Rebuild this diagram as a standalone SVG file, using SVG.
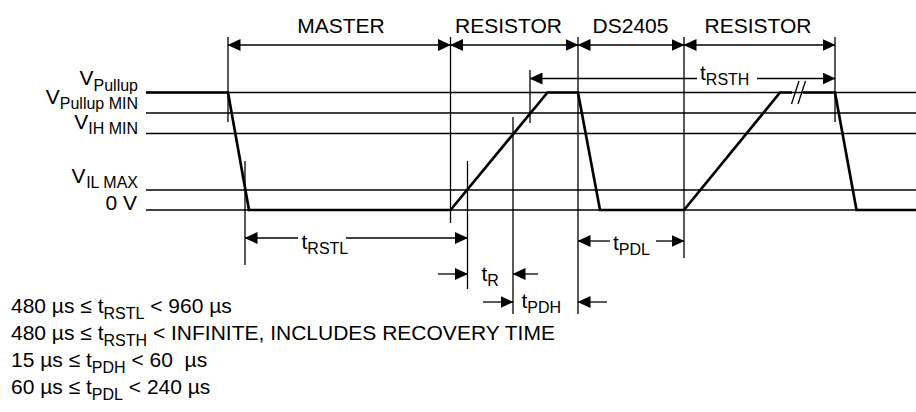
<svg xmlns="http://www.w3.org/2000/svg" width="916" height="412" viewBox="0 0 916 412">
<defs>
<style>
text{font-family:"Liberation Sans",Arial,sans-serif;font-size:21px;fill:#000}
.sub{font-size:16px}
.thin{stroke:#000;stroke-width:1.3;fill:none}
.sig{stroke:#000;stroke-width:2.7;fill:none;stroke-linejoin:miter}
.dim{stroke:#000;stroke-width:1.3;fill:none;marker-end:url(#ah)}
</style>
<marker id="ah" markerUnits="userSpaceOnUse" markerWidth="13" markerHeight="12" refX="12.5" refY="6" orient="auto" viewBox="0 0 13 12">
<path d="M0,0 L13,6 L0,12 z" fill="#000"/>
</marker>
</defs>
<rect width="916" height="412" fill="#fff"/>

<g id="level-labels" text-anchor="end">
<g id="lbl-vpullup"><text x="93.5" y="85">V</text><text class="sub" x="138" y="91">Pullup</text></g>
<g id="lbl-vpullupmin"><text x="59.8" y="103.5">V</text><text class="sub" x="138" y="108.8">Pullup MIN</text></g>
<g id="lbl-vihmin"><text x="88.2" y="129">V</text><text class="sub" x="138" y="134">IH MIN</text></g>
<g id="lbl-vilmax"><text x="85.5" y="183">V</text><text class="sub" x="138" y="188">IL MAX</text></g>
<g id="lbl-0v"><text x="137" y="209.5">0 V</text></g>
</g>

<g id="levels" class="thin">
<line x1="146" y1="92.5" x2="916" y2="92.5"/>
<line x1="146" y1="113" x2="916" y2="113"/>
<line x1="146" y1="133.5" x2="916" y2="133.5"/>
<line x1="146" y1="190" x2="916" y2="190"/>
<line x1="146" y1="210" x2="916" y2="210"/>
</g>

<g id="signal" class="sig">
<polyline points="146,92.5 228,92.5 249,210 450.5,210 547.5,92.5 578,92.5 600,210 684,210 780,92.5 792,92.5"/>
<polyline points="803,92.5 835,92.5 856.5,210 916,210"/>
</g>
<g id="break" class="thin">
<line x1="791.5" y1="104" x2="799" y2="81"/>
<line x1="798" y1="104" x2="805.5" y2="81"/>
</g>

<g id="extension-lines" class="thin">
<line x1="228" y1="37" x2="228" y2="122"/>
<line x1="245" y1="161" x2="245" y2="265"/>
<line x1="450.5" y1="37" x2="450.5" y2="223"/>
<line x1="467.5" y1="161" x2="467.5" y2="289"/>
<line x1="513" y1="117" x2="513" y2="314"/>
<line x1="530" y1="70" x2="530" y2="123"/>
<line x1="578" y1="37" x2="578" y2="314"/>
<line x1="684" y1="37" x2="684" y2="258"/>
<line x1="835" y1="37" x2="835" y2="122"/>
</g>

<g id="connectors">
<line class="dim" x1="340" y1="45" x2="228" y2="45"/>
<line class="dim" x1="340" y1="45" x2="450.5" y2="45"/>
<line class="dim" x1="514" y1="45" x2="450.5" y2="45"/>
<line class="dim" x1="514" y1="45" x2="578" y2="45"/>
<line class="dim" x1="631" y1="45" x2="578" y2="45"/>
<line class="dim" x1="631" y1="45" x2="684" y2="45"/>
<line class="dim" x1="760" y1="45" x2="684" y2="45"/>
<line class="dim" x1="760" y1="45" x2="835" y2="45"/>
<line class="dim" x1="697" y1="78.5" x2="530" y2="78.5"/>
<line class="dim" x1="757" y1="78.5" x2="835" y2="78.5"/>
<line class="dim" x1="298" y1="238" x2="245" y2="238"/>
<line class="dim" x1="346" y1="238" x2="467.5" y2="238"/>
<line class="dim" x1="610" y1="241" x2="578" y2="241"/>
<line class="dim" x1="656" y1="241" x2="684" y2="241"/>
<line class="dim" x1="438" y1="274" x2="467.5" y2="274"/>
<line class="dim" x1="538" y1="274" x2="513" y2="274"/>
<line class="dim" x1="483" y1="302" x2="513" y2="302"/>
<line class="dim" x1="607" y1="302" x2="578" y2="302"/>
</g>

<g id="phase-labels">
<text x="341" y="33" text-anchor="middle">MASTER</text>
<text x="508.5" y="33" text-anchor="middle">RESISTOR</text>
<text x="630.5" y="33" text-anchor="middle">DS2405</text>
<text x="758" y="33" text-anchor="middle">RESISTOR</text>
</g>

<g id="timing-labels">
<text x="700" y="80">t<tspan class="sub" dy="5">RSTH</tspan></text>
<text x="301.5" y="249">t<tspan class="sub" dy="4.5">RSTL</tspan></text>
<text x="613" y="250">t<tspan class="sub" dy="5">PDL</tspan></text>
<text x="481.5" y="281">t<tspan class="sub" dy="4.5">R</tspan></text>
<text x="521.5" y="308">t<tspan class="sub" dy="5">PDH</tspan></text>
</g>

<g id="notes">
<text x="11" y="313">480 µs ≤ t<tspan class="sub" dy="6">RSTL</tspan><tspan dy="-6"> &lt; 960 µs</tspan></text>
<text x="11" y="340">480 µs ≤ t<tspan class="sub" dy="6">RSTH</tspan><tspan dy="-6"> &lt; INFINITE, INCLUDES RECOVERY TIME</tspan></text>
<text x="11" y="367" xml:space="preserve">15 µs ≤ t<tspan class="sub" dy="6">PDH</tspan><tspan dy="-6"> &lt; 60  µs</tspan></text>
<text x="11" y="394">60 µs ≤ t<tspan class="sub" dy="6">PDL</tspan><tspan dy="-6"> &lt; 240 µs</tspan></text>
</g>
</svg>
